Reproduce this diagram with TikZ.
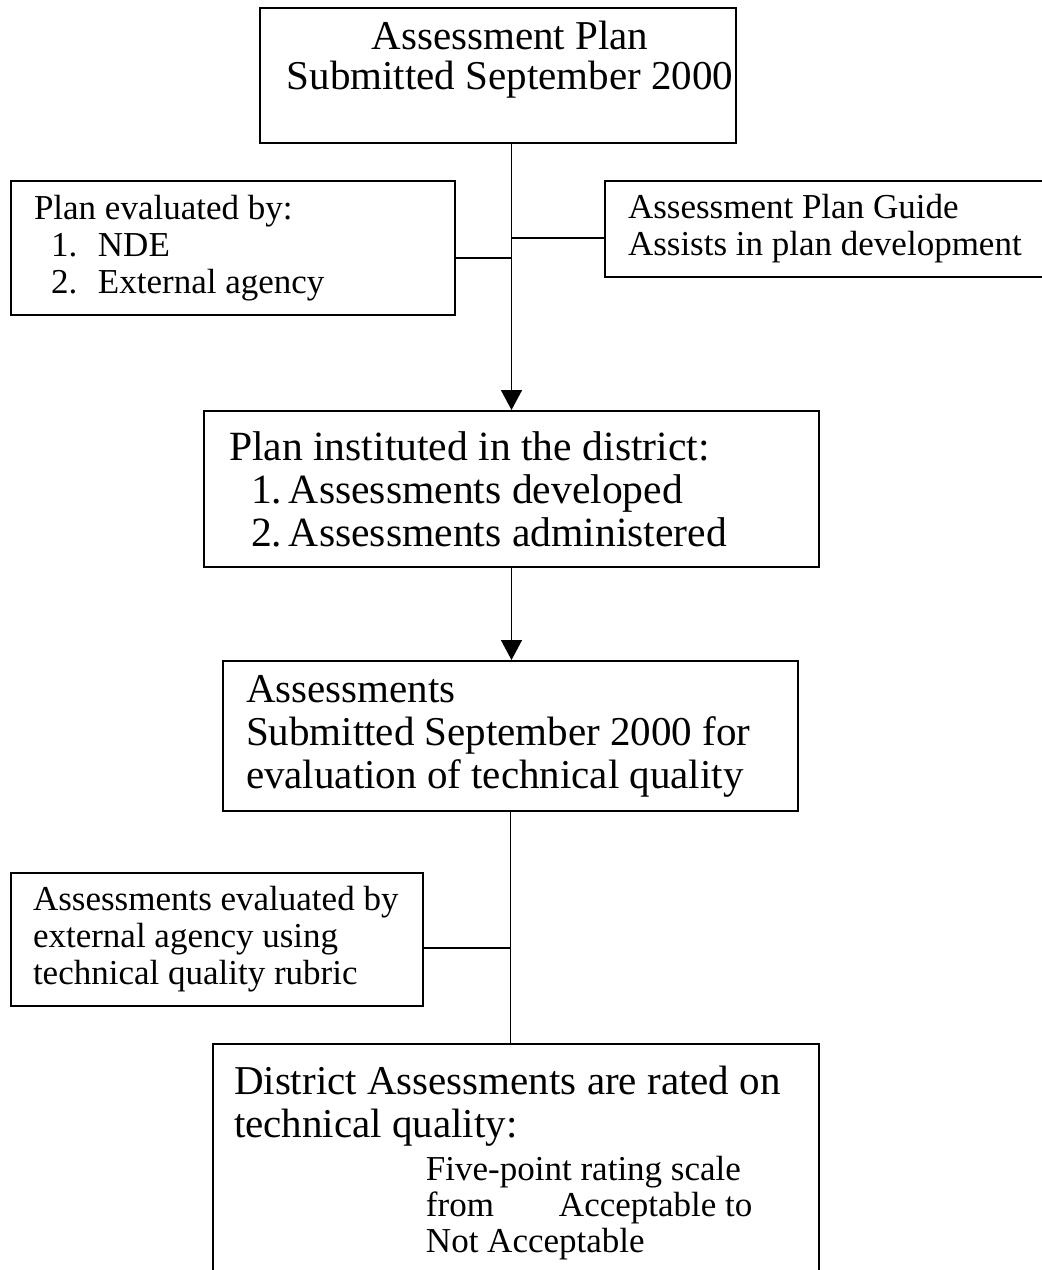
\documentclass[tikz,border=0pt]{standalone}
\usepackage{fontspec}
\setmainfont{Liberation Serif}
\usetikzlibrary{arrows.meta}

% boxes of the flow chart and the lines between them
\tikzset{
  stage/.style={draw, line width=1pt, anchor=north west, inner ysep=0pt},
  link/.style={line width=0.8pt},
  flow/.style={link, -{Triangle[length=10pt,width=10.5pt]}}
}
\newcommand{\bigtext}{\fontsize{20.5}{21.5}\selectfont}
\newcommand{\smalltext}{\fontsize{17.5}{18.5}\selectfont}
\newcommand{\numsmall}[1]{\hspace*{8.5pt}\makebox[23.5pt][l]{#1}}
\newcommand{\numbig}[1]{\hspace*{11pt}\makebox[19pt][l]{#1}}

\begin{document}
\begin{tikzpicture}[x=0.5pt, y=-0.5pt]
  \useasboundingbox (0,0) rectangle (1042,1270);

  % main column
  \node[stage, inner xsep=0pt, minimum width=238pt, minimum height=67.5pt,
        align=flush center, font=\fontsize{20.5}{20}\selectfont] (plan) at (259,7)
    {\hspace*{12pt}Assessment Plan\\\hspace*{12pt}Submitted September 2000\\\mbox{}};
  \node[stage, inner xsep=12.5pt, text width=282.5pt, minimum height=78pt,
        align=flush left, font=\fontsize{20.8}{21.5}\selectfont] (institute) at (203,410)
    {Plan instituted in the district:\\
     \numbig{1.}Assessments developed\\
     \numbig{2.}Assessments administered};
  \node[stage, inner xsep=11.5pt, text width=264.5pt, minimum height=75pt,
        align=flush left, font=\bigtext] (assess) at (222,660)
    {Assessments\\Submitted September 2000 for\\evaluation of technical quality};
  \node[stage, inner xsep=10.5pt, inner ysep=11pt, text width=282pt,
        align=flush left, font=\bigtext] (rated) at (212,1043)
    {District Assessments are rated on\\technical quality:\\
     {\smalltext\hspace*{96pt}Five-point rating scale}\\[-3.5pt]
     {\smalltext\hspace*{96pt}\makebox[66.5pt][l]{from}Acceptable to}\\[-3.5pt]
     {\smalltext\hspace*{96pt}Not Acceptable}\\[6pt]\mbox{}};

  % side boxes
  \node[stage, inner xsep=11.5pt, text width=199pt, minimum height=67pt,
        align=flush left, font=\smalltext] (evalby) at (10,180)
    {Plan evaluated by:\\
     \numsmall{1.}NDE\\
     \numsmall{2.}External agency};
  \node[stage, inner xsep=11.5pt, text width=205pt, minimum height=48pt,
        align=flush left, font=\smalltext] (guide) at (604,180)
    {Assessment Plan Guide\\Assists in plan development};
  \node[stage, inner xsep=11pt, text width=184pt, minimum height=66.5pt,
        align=flush left, font=\smalltext] (evalq) at (10,872)
    {Assessments evaluated by\\external agency using\\technical quality rubric};

  % junctions on the trunk
  \coordinate (plansplit) at (511,258);
  \coordinate (guidesplit) at (511,238);
  \coordinate (qualsplit) at (511,948);

  \draw[flow] (plan.south -| institute.north) -- (institute.north);
  \draw[link] (evalby.east |- plansplit) -- (plansplit);
  \draw[link] (guidesplit) -- (guide.west |- guidesplit);
  \draw[flow] (institute.south) -- (institute.south |- assess.north);
  \draw[link] (assess.south) -- (assess.south |- rated.north);
  \draw[link] (evalq.east |- qualsplit) -- (qualsplit);
\end{tikzpicture}
\end{document}
